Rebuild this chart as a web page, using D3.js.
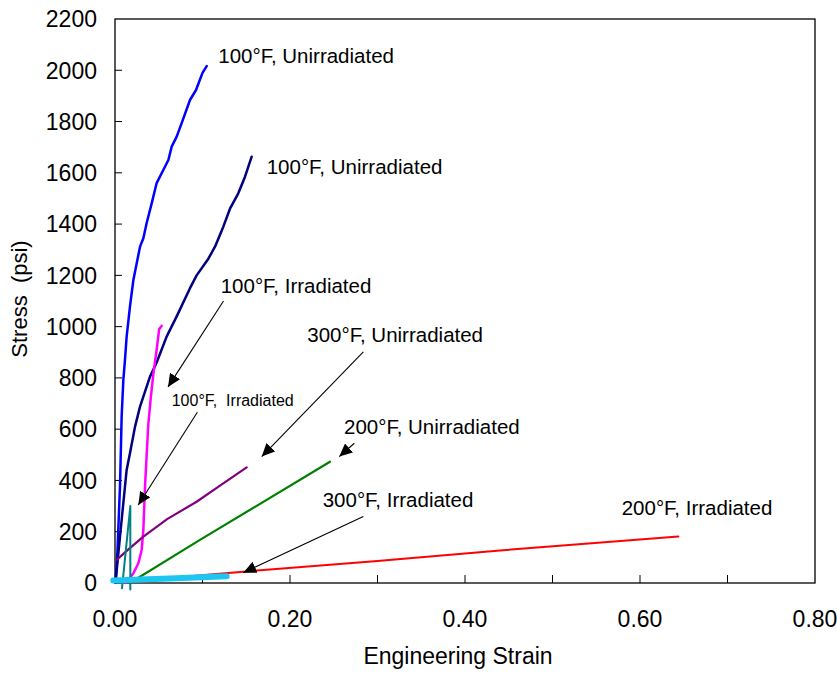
<!DOCTYPE html>
<html>
<head>
<meta charset="utf-8">
<script src="https://cdn.jsdelivr.net/npm/d3@7"></script>
<style>
  body { margin: 0; background: #fff; }
  text { font-family: Arial, "Liberation Sans", sans-serif; fill: #000; }
</style>
</head>
<body>
<svg id="chart" width="837" height="675"></svg>
<script>
// stress-strain curves, [strain, stress psi]
const blue100Unirr = [[0.0005,0],[0.0011,25],[0.0027,117],[0.0057,376],[0.0076,649],[0.0095,790],[0.0114,870],
  [0.0133,961],[0.0171,1078],[0.021,1182],[0.0286,1312],[0.0324,1345],[0.0362,1404],[0.042,1482],[0.0476,1560],
  [0.0552,1611],[0.061,1650],[0.0648,1702],[0.0705,1741],[0.0762,1794],[0.0857,1884],[0.0926,1923],[0.1,1990],[0.1048,2016]];
const navy100Unirr = [[0.0008,10],[0.0027,77],[0.0057,181],[0.0095,311],[0.0133,441],[0.0171,506],[0.0229,610],
  [0.0286,688],[0.0362,766],[0.04,805],[0.0476,860],[0.059,961],[0.0705,1040],[0.0857,1150],[0.0933,1200],
  [0.1067,1265],[0.1143,1312],[0.1238,1390],[0.1314,1460],[0.1409,1520],[0.1486,1585],[0.1562,1663]];
const magenta100Irr = [[0.012,0],[0.0152,12],[0.021,38],[0.0267,77],[0.0305,129],[0.0324,207],[0.0343,376],
  [0.0362,500],[0.0381,620],[0.0408,720],[0.0438,815],[0.0476,910],[0.0505,990],[0.0533,1003]];
const purple300Unirr = [[0.0019,90],[0.015,130],[0.0324,181],[0.06,250],[0.0933,317],[0.12,380],[0.1505,451]];
const green200Unirr = [[0.017,0],[0.0971,168],[0.2457,473]];
const red200Irr = [[0.02,8],[0.1467,44],[0.3,86],[0.44,127],[0.6438,181]];
const teal100Irr = [[0.008,-20],[0.0175,300],[0.0175,-25]];
const cyan300Irr = [[-0.002,10],[0.03,14],[0.07,19],[0.1276,26]];

const xTicks = [0, 0.2, 0.4, 0.6, 0.8];
const xMinorTicks = [0.1, 0.2, 0.3, 0.4, 0.5, 0.6, 0.7];
const yTicks = d3.range(0, 2201, 200);

// annotation text, anchored in data units
const labelText = ["100°F, Unirradiated", "100°F, Unirradiated", "100°F, Irradiated", "300°F, Unirradiated",
  "100°F,  Irradiated", "200°F, Unirradiated", "300°F, Irradiated", "200°F, Irradiated"];
const labelAt = [[0.118,2028],[0.1734,1595],[0.1208,1130],[0.2198,941],[0.0648,692],[0.2617,581],[0.2374,295],[0.5791,265]];
// arrows: [from, to]
const arrowFrom = [[0.124,1100],[0.0941,666],[0.2838,902],[0.2735,545],[0.2838,259]];
const arrowTo = [[0.0606,765],[0.0266,304],[0.1677,493],[0.2563,493],[0.1466,40]];

const series = [
  {data: blue100Unirr, color: "#0000ff", w: 2.5},
  {data: navy100Unirr, color: "#000080", w: 2.5},
  {data: magenta100Irr, color: "#ff00ff", w: 2.5},
  {data: purple300Unirr, color: "#800080", w: 2.2},
  {data: green200Unirr, color: "#008000", w: 2.2},
  {data: red200Irr, color: "#ff0000", w: 2},
  {data: teal100Irr, color: "#008080", w: 2},
  {data: cyan300Irr, color: "#1cc6f0", w: 6}
];

const svg = d3.select("#chart");
const plotL = 115, plotR = 815, plotT = 19, plotB = 583;

const x = d3.scaleLinear().domain([0, 0.8]).range([plotL, plotR]);
const y = d3.scaleLinear().domain([0, 2200]).range([plotB, plotT]);

svg.append("rect").attr("width", 837).attr("height", 675).attr("fill", "#fff");

// plot box
svg.append("rect")
    .attr("x", plotL).attr("y", plotT)
    .attr("width", plotR - plotL).attr("height", plotB - plotT)
    .attr("fill", "none").attr("stroke", "#000").attr("stroke-width", 1.3);

// ticks point inward
svg.append("g")
    .selectAll("line")
    .data(yTicks.slice(1, -1))
    .enter().append("line")
    .attr("x1", plotL).attr("x2", plotL + 7)
    .attr("y1", d => y(d)).attr("y2", d => y(d))
    .attr("stroke", "#000");
svg.append("g")
    .selectAll("line")
    .data(xMinorTicks)
    .enter().append("line")
    .attr("x1", d => x(d)).attr("x2", d => x(d))
    .attr("y1", plotB).attr("y2", plotB - 8)
    .attr("stroke", "#000");

svg.append("g")
    .selectAll("text")
    .data(yTicks)
    .enter().append("text")
    .attr("x", plotL - 18).attr("y", d => y(d))
    .attr("dy", "0.36em")
    .style("text-anchor", "end")
    .style("font-size", "23px")
    .text(d => d);

svg.append("g")
    .selectAll("text")
    .data(xTicks)
    .enter().append("text")
    .attr("x", d => x(d)).attr("y", 627)
    .style("text-anchor", "middle")
    .style("font-size", "23px")
    .text(d => d3.format(".2f")(d));

svg.append("text")
    .attr("x", 458).attr("y", 664)
    .style("text-anchor", "middle")
    .style("font-size", "23px")
    .text("Engineering Strain");

svg.append("text")
    .attr("transform", "translate(27,299) rotate(-90)")
    .style("text-anchor", "middle")
    .style("font-size", "22px")
    .style("white-space", "pre")
    .text("Stress  (psi)");

// curves
const line = d3.line().x(d => x(d[0])).y(d => y(d[1]));
svg.append("g")
    .selectAll("path")
    .data(series)
    .enter().append("path")
    .attr("d", d => line(d.data))
    .attr("fill", "none")
    .attr("stroke", d => d.color)
    .attr("stroke-width", d => d.w)
    .attr("stroke-linejoin", "round")
    .attr("stroke-linecap", "round");

// arrow head
svg.append("defs").append("marker")
    .attr("id", "head")
    .attr("viewBox", "0 -6 13 12")
    .attr("refX", 13).attr("refY", 0)
    .attr("markerWidth", 13).attr("markerHeight", 12)
    .attr("markerUnits", "userSpaceOnUse")
    .attr("orient", "auto")
  .append("path")
    .attr("d", "M0,-6L13,0L0,6Z")
    .attr("fill", "#000");

svg.append("g")
    .selectAll("line")
    .data(arrowFrom)
    .enter().append("line")
    .attr("x1", d => x(d[0])).attr("y1", d => y(d[1]))
    .attr("x2", (d, i) => x(arrowTo[i][0])).attr("y2", (d, i) => y(arrowTo[i][1]))
    .attr("stroke", "#000").attr("stroke-width", 1.1)
    .attr("marker-end", "url(#head)");

svg.append("g")
    .selectAll("text")
    .data(labelText)
    .enter().append("text")
    .attr("x", (d, i) => x(labelAt[i][0]))
    .attr("y", (d, i) => y(labelAt[i][1]))
    .style("font-size", (d, i) => i === 4 ? "16px" : "20.5px")
    .style("white-space", "pre")
    .text(d => d);
</script>
</body>
</html>
